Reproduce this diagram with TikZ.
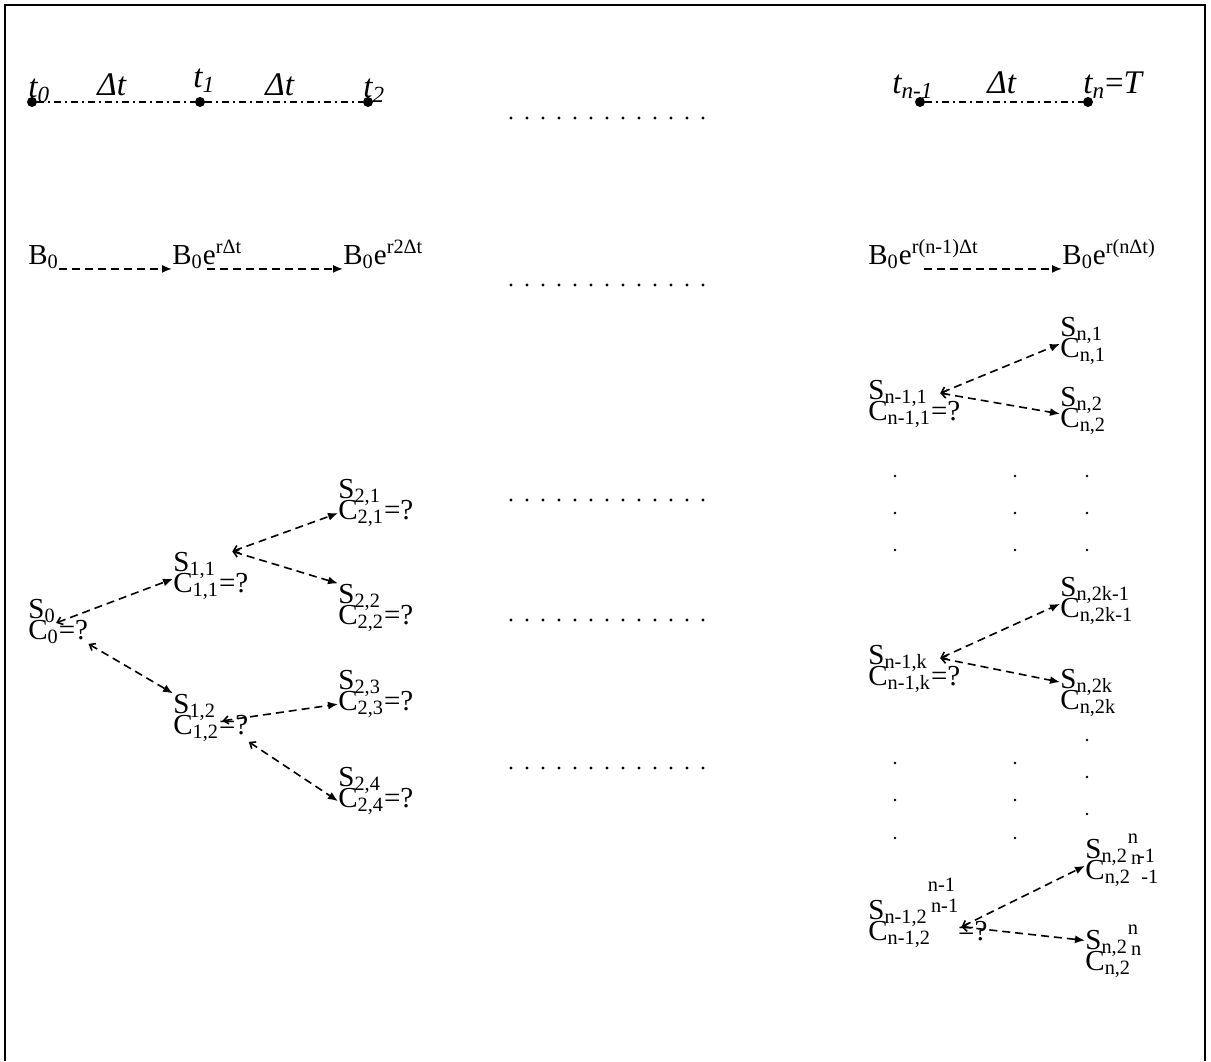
\documentclass[tikz,border=0pt]{standalone}
\usepackage{fontspec}
\setmainfont{Liberation Serif}
\usetikzlibrary{arrows.meta}

\begin{document}
\begin{tikzpicture}[x=0.5pt,y=-0.5pt,line cap=butt,
  lbl/.style={inner sep=0pt,anchor=base west,font=\fontsize{14.5}{16}\selectfont},
  tlbl/.style={inner sep=0pt,anchor=base west,font=\fontsize{16.5}{18}\selectfont\itshape},
  tdot/.style={circle,fill,inner sep=0pt,minimum size=5pt},
  branch/.style={line width=0.8pt,dash pattern=on 4pt off 2.5pt,{Straight Barb[length=2.5pt,width=4pt]}-{Latex[length=5pt,width=4pt]}},
  bond/.style={line width=0.8pt,dash pattern=on 4pt off 2.5pt,-{Latex[length=5pt,width=4pt]}}]
\useasboundingbox (0,0) rectangle (1211,1061);
\draw[line width=1pt] (5,1061) -- (5,5) -- (1205,5) -- (1205,1061);

% time axis
\node[tdot] (t0) at (32,102) {};
\node[tdot] (t1) at (200,102) {};
\node[tdot] (t2) at (368,102) {};
\node[tdot] (tn1) at (920,102) {};
\node[tdot] (tn) at (1088,102) {};
\draw[line width=0.6pt,dash pattern=on 3.5pt off 2pt on 1pt off 2pt] (t0) -- (t1) -- (t2);
\draw[line width=0.6pt,dash pattern=on 3.5pt off 2pt on 1pt off 2pt] (tn1) -- (tn);
\node[tlbl] (lt0) at (28,97) {t\textsubscript{0}};
\node[tlbl] (ld1) at (97,95) {Δt};
\node[tlbl] (lt1) at (193,87) {t\textsubscript{1}};
\node[tlbl] (ld2) at (265,95) {Δt};
\node[tlbl] (lt2) at (363,97) {t\textsubscript{2}};
\node[tlbl] (ltn1) at (892,93) {t\textsubscript{n-1}};
\node[tlbl] (ldn) at (987,93) {Δt};
\node[tlbl] (ltn) at (1083,93) {t\textsubscript{n}\textup{=}T};

% dotted rows in the middle
\foreach \y in {118,285,500,620,768}
  \foreach \i in {0,...,12}
    \fill (511+16*\i,\y) circle (0.8pt);

% bond
\node[lbl] (b0) at (28,264) {B\textsubscript{0}};
\node[lbl] (b1) at (172,264) {B\textsubscript{0}e\textsuperscript{rΔt}};
\node[lbl] (b2) at (343,264) {B\textsubscript{0}e\textsuperscript{r2Δt}};
\node[lbl] (bn1) at (868,264) {B\textsubscript{0}e\textsuperscript{r(n-1)Δt}};
\node[lbl] (bn) at (1062,264) {B\textsubscript{0}e\textsuperscript{r(nΔt)}};
\draw[bond] (b0.south east) -- (b1.south west);
\draw[bond] (b1.south) -- (b2.south west);
\draw[bond] (bn1.south) -- (bn.south west);

% left tree
\node[lbl] (s0) at (28,618) {S\textsubscript{0}};
\node[lbl] (c0) at (28,639) {C\textsubscript{0}=?};
\node[lbl] (s11) at (173,571) {S\textsubscript{1,1}};
\node[lbl] (c11) at (173,592) {C\textsubscript{1,1}=?};
\node[lbl] (s12) at (173,713) {S\textsubscript{1,2}};
\node[lbl] (c12) at (173,734) {C\textsubscript{1,2}=?};
\node[lbl] (s21) at (338,498) {S\textsubscript{2,1}};
\node[lbl] (c21) at (338,519) {C\textsubscript{2,1}=?};
\node[lbl] (s22) at (338,603) {S\textsubscript{2,2}};
\node[lbl] (c22) at (338,624) {C\textsubscript{2,2}=?};
\node[lbl] (s23) at (338,689) {S\textsubscript{2,3}};
\node[lbl] (c23) at (338,710) {C\textsubscript{2,3}=?};
\node[lbl] (s24) at (338,786) {S\textsubscript{2,4}};
\node[lbl] (c24) at (338,807) {C\textsubscript{2,4}=?};
\draw[branch] (s0.south east) -- (s11.south west);
\draw[branch] (c0.south east) -- (s12.north west);
\draw[branch] ([xshift=8pt]s11.north east) -- (c21.west);
\draw[branch] ([xshift=8pt]s11.north east) -- (s22.north west);
\draw[branch] ([xshift=3pt]s12.south east) -- (c23.west);
\draw[branch] (c12.south east) -- (c24.west);

% right tree
\node[lbl] (sa) at (868,399) {S\textsubscript{n-1,1}};
\node[lbl] (ca) at (868,420) {C\textsubscript{n-1,1}=?};
\node[lbl] (sa1) at (1060,336) {S\textsubscript{n,1}};
\node[lbl] (ca1) at (1060,357) {C\textsubscript{n,1}};
\node[lbl] (sa2) at (1060,406) {S\textsubscript{n,2}};
\node[lbl] (ca2) at (1060,427) {C\textsubscript{n,2}};
\draw[branch] ([xshift=6pt]sa.east) -- (sa1.south west);
\draw[branch] ([xshift=6pt]sa.east) -- (sa2.south west);

\node[lbl] (sk) at (868,664) {S\textsubscript{n-1,k}};
\node[lbl] (ck) at (868,685) {C\textsubscript{n-1,k}=?};
\node[lbl] (sk1) at (1060,596) {S\textsubscript{n,2k-1}};
\node[lbl] (ck1) at (1060,617) {C\textsubscript{n,2k-1}};
\node[lbl] (sk2) at (1060,688) {S\textsubscript{n,2k}};
\node[lbl] (ck2) at (1060,709) {C\textsubscript{n,2k}};
\draw[branch] ([xshift=6pt]sk.east) -- (sk1.south west);
\draw[branch] ([xshift=6pt]sk.east) -- (sk2.west);

\node[lbl] (sl) at (868,919) {S\textsubscript{n-1,2}\raisebox{14pt}{\fontsize{10.2}{12}\selectfont n-1}};
\node[lbl] (cl) at (868,940) {C\textsubscript{n-1,2}\raisebox{14pt}{\fontsize{10.2}{12}\selectfont n-1}=?};
\node[lbl] (sl1) at (1085,858) {S\textsubscript{n,2}\raisebox{7.5pt}{\fontsize{10.2}{12}\selectfont n}\textsubscript{-1}};
\node[lbl] (cl1) at (1085,879) {C\textsubscript{n,2}\raisebox{7.5pt}{\fontsize{10.2}{12}\selectfont n}\textsubscript{-1}};
\node[lbl] (sl2) at (1085,949) {S\textsubscript{n,2}\raisebox{7.5pt}{\fontsize{10.2}{12}\selectfont n}};
\node[lbl] (cl2) at (1085,970) {C\textsubscript{n,2}\raisebox{7.5pt}{\fontsize{10.2}{12}\selectfont n}};
\draw[branch] ([xshift=3pt]sl.south east) -- (sl1.south west);
\draw[branch] ([xshift=3pt]sl.south east) -- (sl2.west);

% vertical dots
\foreach \x in {895,1015,1087}
  \foreach \y in {476,513,550}
    \fill (\x,\y) circle (0.7pt);
\foreach \x in {895,1015}
  \foreach \y in {763,800,838}
    \fill (\x,\y) circle (0.7pt);
\foreach \y in {740,777,814}
  \fill (1087,\y) circle (0.7pt);
\end{tikzpicture}
\end{document}
